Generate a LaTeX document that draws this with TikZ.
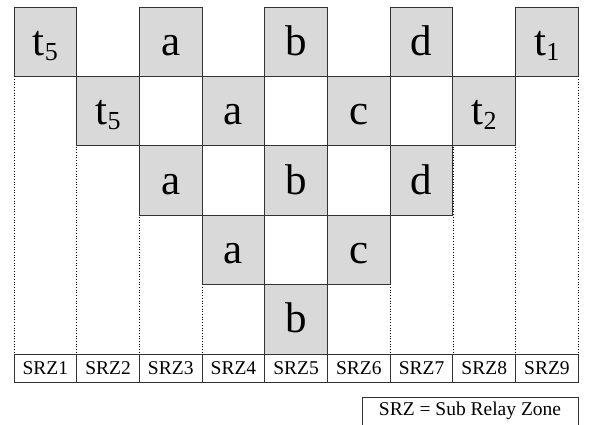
\documentclass[tikz,border=0pt]{standalone}
\usepackage{fontspec}
\setmainfont{Liberation Serif}
\definecolor{cellgray}{HTML}{D9D9D9}
\definecolor{linec}{HTML}{333333}
\newcommand\lowsub[1]{\raisebox{-0.12em}{\fontsize{26}{26}\selectfont #1}}
\begin{document}
\begin{tikzpicture}[x=1pt,y=-1pt,
  cell/.style={draw=linec, fill=cellgray, line width=0.9pt, minimum width=62.7pt, minimum height=69.4pt,
    inner sep=0pt, outer sep=0pt, font=\fontsize{43}{43}\selectfont, text height=30pt, text depth=3pt},
  zone/.style={draw=linec, line width=0.9pt, minimum width=62.7pt, minimum height=28pt,
    inner sep=0pt, outer sep=0pt, font=\fontsize{19.5}{19.5}\selectfont},
  guide/.style={dotted, line width=0.7pt, draw=black},
  legendbox/.style={draw=linec, line width=0.9pt, minimum width=216pt, minimum height=40pt,
    inner sep=0pt, outer sep=0pt, font=\fontsize{19.5}{19.5}\selectfont, text height=10pt, text depth=14pt}]
\clip (0,0) rectangle (589,425);
\fill[white] (0,0) rectangle (589,425);
% dotted column guides
\foreach \i in {0,...,9} {
  \coordinate (gt\i) at (14+62.7*\i, 76.4);
  \coordinate (gb\i) at (14+62.7*\i, 354);
  \draw[guide] (gt\i) -- (gb\i);
}
% shaded cells
\foreach \r/\c/\t in {1/1/{t\lowsub{5}}, 1/3/a, 1/5/b, 1/7/d, 1/9/{t\lowsub{1}},
                      2/2/{t\lowsub{5}}, 2/4/a, 2/6/c, 2/8/{t\lowsub{2}},
                      3/3/a, 3/5/b, 3/7/d,
                      4/4/a, 4/6/c,
                      5/5/b} {
  \node[cell] (r\r c\c) at (14+62.7*\c-31.35, 7+69.4*\r-34.7) {\t};
}
% zone labels
\foreach \c in {1,...,9} {
  \node[zone] (z\c) at (14+62.7*\c-31.35, 368) {SRZ\c};
}
% legend
\node[legendbox] (legend) at (470,417) {SRZ = Sub Relay Zone};
\end{tikzpicture}
\end{document}
